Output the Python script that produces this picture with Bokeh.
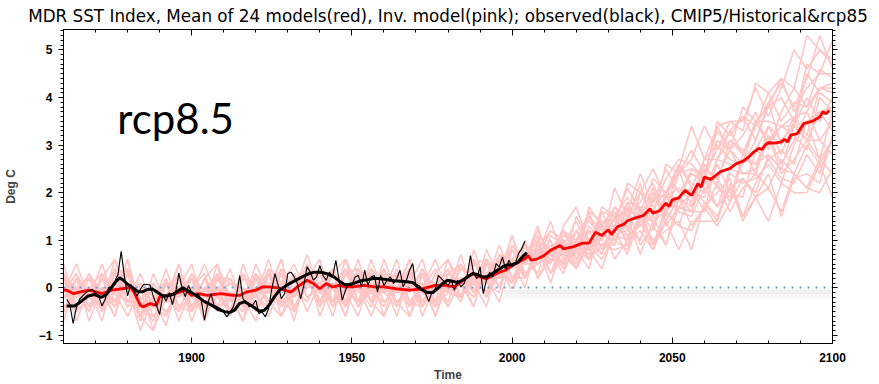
from bokeh.plotting import figure
from bokeh.models import (Range1d, LinearAxis, SingleIntervalTicker, Label,
                          BoxAnnotation, ColumnDataSource, CustomLabelingPolicy)
from bokeh.embed import file_html
from bokeh.resources import INLINE

# ---------------------------------------------------------------------------
# Data: MDR SST index anomalies (deg C)
# ---------------------------------------------------------------------------
# Individual model runs (historical + rcp8.5), sampled every 4 years 1860-2100
run_years = list(range(1860, 2101, 4))
model_runs = [
    [0.2, -0.2, 0.3, -0.1, -0.4, 0.1, -0.6, 0.3, -0.3, -0.1, 0.2, -0.7, 0.0, 0.2, -0.4, -0.1, -0.1, 0.3, -0.5, 0.2,
     0.6, -0.3, 0.0, 0.1, -0.1, 0.4, -0.3, -0.6, 0.3, 0.0, 0.1, -0.3, 0.5, 0.6, 0.2, 0.2, 0.6,
     1.3, 0.5, 1.1, 1.0, 1.6, 1.4, 1.3, 2.2, 2.0, 1.5, 2.6, 2.4, 2.7, 3.4, 2.9, 3.5, 3.5, 4.2, 3.6, 4.2, 5.0, 4.6, 5.0, 4.8],
    [-0.4, -0.1, 0.2, -0.5, -0.1, 0.6, -0.6, -0.2, -0.2, -0.5, 0.2, -0.2, 0.0, -0.5, 0.3, -0.1, -0.6, 0.1, -0.2, 0.4,
     -0.4, 0.0, 0.4, -0.3, -0.1, 0.1, 0.3, -0.6, 0.0, 0.4, -0.1, -0.2, 0.3, -0.2, 0.6, 0.5, 0.5,
     1.1, 0.3, 0.6, 0.8, 0.8, 0.4, 1.2, 0.7, 1.5, 1.0, 1.2, 1.4, 0.8, 1.8, 1.5, 2.1, 1.5, 1.9, 2.1, 1.6, 2.4, 2.1, 2.0, 2.5],
    [-0.1, 0.3, -0.4, 0.2, -0.4, 0.1, -0.3, -0.4, 0.4, -0.4, 0.0, -0.5, 0.2, -0.2, -0.2, 0.3, -0.3, 0.1, 0.2, 0.0,
     0.4, 0.0, -0.4, 0.1, -0.3, 0.6, -0.1, 0.0, 0.3, -0.6, 0.1, 0.5, -0.1, 0.2, 0.2, 0.8, 0.2,
     0.7, 1.4, 0.6, 1.0, 1.2, 1.1, 1.7, 1.2, 1.0, 2.0, 1.9, 2.1, 1.8, 2.7, 3.0, 2.7, 2.6, 3.1, 3.9, 3.0, 3.6, 3.7, 4.2, 4.1],
    [-0.2, 0.0, -0.5, 0.2, 0.6, -0.3, -0.3, -0.4, 0.2, -0.4, -0.5, 0.0, 0.2, -0.2, -0.7, 0.3, -0.1, 0.1, -0.4, 0.1,
     0.3, -0.4, -0.1, 0.6, -0.3, 0.1, 0.0, -0.4, 0.3, -0.1, 0.1, -0.2, 0.6, 0.2, -0.3, 0.6, 0.5,
     0.9, 0.3, 0.8, 1.2, 0.6, 0.9, 1.2, 1.5, 0.7, 1.4, 1.9, 1.6, 1.5, 2.1, 1.7, 2.5, 2.4, 2.4, 3.2, 2.4, 2.7, 3.1, 3.1, 2.8],
    [0.2, 0.0, -0.2, -0.4, 0.6, 0.0, -0.7, -0.2, 0.1, -0.2, 0.3, -0.4, -0.1, -0.1, -0.7, 0.2, 0.1, -0.1, -0.1, 0.5,
     -0.3, 0.3, -0.4, 0.1, 0.0, -0.1, 0.6, -0.3, 0.1, -0.4, 0.3, 0.1, 0.1, 0.6, 0.0, 0.6, 0.9,
     0.6, 1.2, 1.0, 0.6, 1.3, 1.0, 2.1, 1.5, 1.8, 2.2, 1.5, 2.4, 2.9, 2.4, 2.9, 3.3, 3.6, 3.1, 3.8, 4.4, 3.7, 4.2, 4.5, 4.5],
    [-0.2, 0.2, -0.7, 0.0, 0.0, -0.3, 0.3, -0.4, -0.6, 0.2, -0.1, 0.0, -0.4, 0.2, -0.2, -0.7, 0.3, 0.0, -0.2, 0.2,
     -0.4, 0.3, 0.6, -0.3, 0.0, -0.1, 0.4, -0.3, -0.4, 0.1, 0.3, 0.1, -0.4, 0.6, 0.2, 0.6, 0.3,
     0.6, 1.0, 0.4, 0.8, 1.6, 0.8, 1.3, 1.3, 1.0, 1.9, 1.6, 1.9, 1.7, 2.5, 2.3, 1.8, 2.7, 2.6, 3.2, 2.6, 3.1, 3.7, 3.1, 3.5],
    [-0.7, 0.2, -0.2, -0.1, 0.4, -0.3, -0.2, -0.4, 0.1, -0.5, -0.1, 0.5, -0.2, -0.1, -0.4, 0.3, 0.0, -0.4, 0.2, 0.2,
     -0.1, -0.3, 0.6, 0.0, -0.4, 0.1, 0.3, -0.1, 0.4, -0.3, 0.0, 0.2, -0.4, 0.5, 0.4, 0.4, 0.6,
     1.0, 0.3, 1.0, 0.4, 0.9, 0.9, 0.9, 1.7, 0.9, 1.3, 0.9, 1.7, 1.6, 1.6, 2.2, 1.6, 2.1, 2.4, 2.1, 2.7, 2.4, 2.1, 2.7, 2.4],
    [-0.2, -0.1, 0.0, -0.7, 0.3, -0.1, 0.1, -0.6, -0.2, 0.0, -0.5, 0.2, -0.2, -0.5, 0.0, -0.5, 0.0, 0.4, -0.2, 0.4,
     -0.6, 0.1, 0.0, -0.3, 0.6, -0.1, -0.4, 0.3, 0.0, 0.1, -0.3, 0.5, 0.1, -0.4, 0.6, 0.5, 0.5,
     0.8, 0.5, 1.3, 1.7, 0.9, 1.4, 1.4, 2.1, 1.6, 1.6, 2.3, 2.7, 2.6, 2.3, 3.5, 3.2, 3.6, 3.4, 3.9, 4.3, 3.8, 4.4, 5.3, 4.6],
    [0.2, -0.1, 0.0, -0.5, 0.3, 0.4, -0.4, -0.6, -0.2, 0.5, -0.5, 0.0, -0.2, 0.1, -0.1, -0.4, 0.4, 0.1, -0.7, 0.4,
     -0.1, 0.0, 0.4, -0.3, 0.1, -0.1, 0.3, -0.4, 0.0, 0.6, -0.1, 0.2, -0.1, 0.6, 0.3, 0.1, 0.9,
     0.7, 0.7, 0.5, 1.5, 1.0, 0.7, 1.3, 1.7, 1.4, 2.0, 1.4, 1.9, 2.1, 1.6, 2.7, 2.6, 2.6, 2.9, 3.4, 2.8, 3.5, 3.1, 3.7, 3.8],
    [-0.1, 0.3, -0.2, -0.4, 0.1, -0.4, 0.0, -0.3, -0.3, 0.5, -0.4, -0.2, 0.0, -0.2, -0.5, 0.2, -0.3, 0.4, -0.2, 0.1,
     0.1, -0.6, 0.3, -0.1, 0.4, -0.3, 0.0, 0.1, -0.4, 0.3, -0.1, -0.2, 0.3, -0.2, 0.3, 0.9, 0.5,
     0.9, 0.1, 0.9, 0.8, 0.6, 1.6, 1.0, 0.8, 1.6, 1.4, 1.6, 1.3, 2.1, 1.8, 1.4, 2.4, 2.2, 2.3, 2.6, 2.2, 3.0, 3.5, 2.7, 3.1],
    [0.2, -0.7, 0.0, 0.3, -0.3, 0.0, -0.4, 0.0, -0.6, 0.0, 0.5, -0.4, -0.1, -0.1, -0.2, 0.3, -0.3, -0.6, 0.2, 0.1,
     0.1, -0.4, 0.3, 0.4, -0.1, -0.3, 0.0, 0.6, -0.4, 0.1, -0.1, 0.4, 0.2, -0.1, 0.7, 0.6, 0.0,
     1.0, 0.7, 0.9, 1.4, 0.8, 1.3, 1.3, 1.8, 1.3, 1.8, 2.5, 2.0, 2.4, 2.2, 3.1, 2.9, 2.6, 3.5, 3.5, 3.4, 3.4, 4.5, 4.1, 3.9],
    [0.2, -0.2, 0.0, -0.4, 0.4, 0.0, -0.9, -0.2, -0.3, 0.2, -0.5, -0.1, 0.3, -0.5, -0.2, 0.0, 0.3, -0.6, -0.1, 0.5,
     -0.1, -0.3, 0.1, -0.4, 0.3, 0.0, -0.1, 0.6, -0.3, -0.1, 0.1, 0.1, -0.2, 0.5, 0.0, 0.9, 0.5,
     0.5, 0.7, 0.3, 1.0, 0.7, 1.3, 0.6, 1.0, 1.2, 0.8, 1.6, 1.3, 1.2, 1.7, 1.3, 1.8, 2.3, 1.9, 2.4, 1.5, 2.3, 2.4, 2.2, 3.2],
    [0.0, -0.5, 0.2, -0.1, -0.1, 0.4, -0.6, -0.2, 0.1, -0.2, 0.3, -0.1, -0.5, -0.1, -0.4, 0.5, -0.1, 0.0, 0.2, -0.5,
     0.1, 0.4, -0.3, 0.0, -0.1, 0.3, -0.4, 0.1, 0.6, -0.3, 0.0, 0.2, 0.1, 0.6, 0.0, -0.1, 0.9,
     0.6, 0.9, 0.5, 1.2, 1.4, 1.1, 1.0, 1.4, 2.2, 1.3, 1.9, 1.9, 2.4, 2.3, 2.2, 3.1, 2.9, 2.4, 3.4, 3.1, 3.4, 4.0, 3.5, 4.0],
    [-0.5, 0.0, 0.2, -0.1, -0.6, 0.4, -0.4, -0.2, -0.5, -0.1, 0.2, -0.5, -0.2, 0.4, -0.4, 0.0, 0.0, -0.4, 0.2, 0.0,
     0.1, -0.3, 0.4, 0.0, -0.6, 0.1, -0.1, 0.3, -0.4, 0.0, 0.4, -0.2, 0.1, 0.3, 0.6, -0.1, 0.6,
     1.1, 0.8, 0.7, 1.2, 0.8, 1.6, 1.5, 1.6, 2.4, 1.7, 2.0, 2.4, 2.5, 2.4, 3.3, 2.9, 3.8, 3.5, 3.8, 4.0, 3.5, 4.7, 4.5, 5.2],
    [0.3, -0.4, -0.1, 0.0, -0.6, 0.3, -0.2, -0.4, -0.2, 0.3, -0.4, 0.2, -0.5, -0.1, -0.1, -0.2, 0.6, -0.3, 0.0, -0.3,
     0.3, 0.0, -0.1, 0.4, -0.3, 0.1, 0.3, -0.1, 0.4, 0.0, -0.4, 0.2, -0.1, 0.8, 0.2, 0.5, 0.9,
     0.2, 0.8, 1.2, 0.6, 1.0, 1.0, 1.5, 0.9, 1.5, 2.1, 1.3, 1.7, 2.0, 1.9, 2.6, 2.0, 1.9, 2.9, 2.7, 2.9, 2.6, 3.5, 3.7, 3.3],
    [-0.1, 0.0, -0.4, 0.3, -0.1, -0.6, 0.0, -0.3, -0.3, 0.0, -0.5, 0.2, 0.5, -0.5, -0.1, -0.2, 0.4, -0.3, -0.5, 0.2,
     0.3, 0.0, -0.6, 0.4, -0.1, 0.1, -0.3, 0.0, 0.3, -0.4, -0.1, 0.7, -0.1, 0.3, 0.3, 0.1, 0.9,
     0.5, 0.8, 0.4, 1.2, 0.9, 0.6, 1.1, 1.0, 1.5, 0.9, 1.4, 1.9, 1.3, 1.7, 2.0, 2.3, 1.5, 2.2, 2.7, 2.3, 2.2, 2.8, 2.4, 3.2],
    [-0.1, 0.5, -0.2, 0.0, -0.3, 0.4, -0.3, -0.7, 0.1, 0.0, -0.2, -0.4, 0.5, -0.2, -0.5, 0.0, 0.3, -0.1, 0.3, -0.2,
     0.0, 0.1, -0.6, 0.3, 0.1, -0.1, 0.0, 0.4, -0.3, 0.3, -0.4, 0.2, 0.2, 0.1, 0.9, 0.2, 0.7,
     0.3, 1.1, 0.9, 0.9, 1.5, 1.0, 1.5, 1.9, 1.6, 2.3, 2.0, 1.8, 2.5, 2.3, 3.4, 2.9, 3.2, 3.7, 2.9, 3.7, 4.2, 3.8, 4.2, 4.3],
    [-0.5, 0.2, -0.2, -0.4, 0.1, -0.4, -0.3, 0.1, -0.3, 0.2, -0.7, 0.0, -0.1, -0.5, 0.5, -0.2, -0.4, 0.3, -0.1, 0.2,
     -0.3, 0.4, -0.1, -0.6, 0.3, 0.0, -0.1, 0.1, -0.4, 0.3, 0.6, -0.2, 0.2, 0.1, 0.7, 0.2, 0.2,
     0.8, 1.2, 1.0, 0.5, 1.7, 1.3, 1.7, 1.5, 2.0, 2.5, 1.9, 2.5, 3.4, 2.7, 3.4, 3.5, 3.3, 4.3, 4.1, 4.4, 4.2, 5.3, 5.0, 4.7],
    [-0.5, 0.0, -0.2, 0.2, 0.0, -0.3, 0.1, -0.2, -0.8, 0.2, -0.2, -0.1, 0.3, -0.5, 0.0, -0.2, 0.3, -0.4, -0.1, 0.7,
     -0.1, 0.1, -0.3, 0.4, 0.0, -0.4, 0.3, 0.1, -0.1, -0.3, 0.6, 0.1, -0.2, 0.3, 0.6, 0.4, 1.0,
     0.2, 0.6, 0.7, 0.4, 1.0, 0.9, 0.8, 0.9, 1.4, 0.8, 1.4, 0.8, 1.4, 1.4, 1.4, 2.2, 1.4, 1.9, 1.4, 2.2, 2.0, 2.0, 2.6, 1.9],
    [-0.4, -0.2, 0.0, -0.1, -0.4, 0.3, -0.6, 0.1, -0.3, -0.1, 0.0, -0.7, 0.2, -0.3, 0.3, -0.4, 0.0, 0.1, -0.5, 0.4,
     -0.1, -0.3, 0.1, -0.4, 0.0, 0.4, -0.1, 0.3, -0.6, 0.1, 0.0, -0.2, 0.8, 0.1, -0.1, 0.8, 0.6,
     0.7, 0.5, 1.2, 0.8, 0.4, 1.4, 1.2, 1.3, 1.6, 1.2, 2.0, 2.5, 1.7, 2.2, 2.3, 2.9, 2.4, 2.5, 3.1, 3.4, 3.2, 2.9, 4.0, 3.7],
    [0.5, -0.4, -0.1, 0.0, -0.1, 0.4, -0.6, -0.9, 0.1, -0.1, 0.0, -0.5, 0.2, 0.2, -0.2, -0.4, 0.0, 0.6, -0.5, 0.2,
     -0.1, 0.3, 0.0, -0.3, 0.4, 0.1, -0.6, 0.3, -0.1, 0.0, 0.4, -0.2, 0.3, 0.1, 0.6, 0.1, 0.6,
     1.2, 0.7, 1.0, 0.7, 1.5, 1.2, 0.9, 1.8, 1.7, 1.6, 1.6, 2.6, 2.2, 2.0, 2.7, 3.1, 2.8, 3.5, 3.0, 3.4, 3.6, 3.2, 4.2, 4.2],
    [-0.5, -0.1, 0.3, -0.4, -0.1, 0.1, 0.0, -0.9, -0.2, 0.3, -0.2, -0.4, 0.0, -0.6, 0.2, -0.1, -0.1, 0.6, -0.4, 0.0,
     0.1, 0.0, -0.4, 0.3, -0.3, 0.4, -0.1, 0.0, 0.1, -0.6, 0.3, 0.0, 0.6, -0.1, 0.3, 0.6, 0.2,
     0.9, 0.6, 0.5, 1.0, 0.6, 1.1, 1.6, 1.2, 1.7, 0.9, 1.7, 1.7, 1.6, 2.6, 2.1, 1.9, 2.8, 2.6, 2.8, 2.5, 3.4, 3.1, 2.7, 3.7],
    [0.3, -0.1, -0.5, 0.0, -0.3, 0.6, -0.4, -0.3, 0.1, -0.7, 0.0, 0.3, -0.4, -0.2, -0.2, 0.2, -0.4, 0.1, 0.5, -0.2,
     0.0, 0.1, -0.1, 0.4, -0.3, -0.6, 0.3, 0.0, 0.1, -0.4, 0.3, 0.5, 0.1, -0.1, 0.3, 1.1, 0.2,
     0.8, 0.7, 1.2, 1.0, 0.8, 1.7, 1.5, 1.0, 2.0, 1.8, 2.0, 2.6, 2.1, 2.7, 2.7, 3.3, 2.8, 3.4, 4.1, 3.5, 3.9, 3.8, 4.6, 4.4],
    [0.2, -0.5, -0.2, 0.5, -0.3, 0.1, -0.3, -0.7, 0.1, -0.2, 0.0, -0.4, 0.3, -0.2, -0.7, 0.0, -0.1, 0.3, -0.5, 0.1,
     0.4, -0.3, -0.1, 0.1, 0.3, -0.6, 0.0, 0.4, -0.1, -0.3, 0.1, -0.3, 0.5, 0.2, 0.2, 1.1, 0.3,
     0.5, 0.8, 0.8, 0.4, 1.2, 0.7, 1.5, 1.1, 1.3, 1.5, 0.9, 1.9, 1.6, 2.3, 1.7, 2.1, 2.3, 2.0, 2.8, 2.5, 2.4, 3.0, 2.6, 3.1],
]

# Mean of the 24 models
mean_years = [1860, 1861, 1863, 1865, 1868, 1872, 1875, 1878, 1881, 1882, 1884, 1885, 1887, 1889, 1890, 1892, 1895,
              1898, 1900, 1902, 1905, 1909, 1913, 1915, 1917, 1920, 1922, 1924, 1927, 1929, 1931, 1933, 1936, 1938,
              1940, 1942, 1944, 1946, 1948, 1950, 1954, 1957, 1960, 1964, 1968, 1972, 1976, 1979, 1982, 1984, 1986,
              1988, 1990, 1992, 1994, 1996, 1998, 2000, 2002, 2004, 2005, 2006, 2008, 2010, 2012, 2015, 2016, 2019,
              2022, 2024, 2026, 2028, 2030, 2031, 2033, 2035, 2036, 2039, 2041, 2043, 2044, 2046, 2048, 2049, 2050,
              2052, 2054, 2056, 2058, 2059, 2060, 2062, 2065, 2068, 2070, 2072, 2074, 2075, 2077, 2078, 2079, 2080,
              2082, 2084, 2085, 2086, 2087, 2089, 2091, 2094, 2096, 2097, 2098, 2099]
mean_vals = [-0.05, -0.05, -0.12, -0.09, -0.05, -0.12, -0.05, -0.02, 0.01, -0.09, -0.37, -0.40, -0.33, -0.37, -0.19,
             -0.16, -0.12, -0.05, -0.16, -0.12, -0.16, -0.12, -0.16, -0.16, -0.09, -0.05, 0.02, 0.02, 0.00, -0.05,
             -0.09, 0.02, 0.16, 0.09, -0.02, 0.09, 0.02, 0.05, 0.02, 0.02, 0.05, 0.02, 0.02, -0.02, -0.05, -0.02,
             0.05, 0.05, 0.02, 0.12, 0.23, 0.30, 0.23, 0.19, 0.26, 0.33, 0.37, 0.47, 0.54, 0.61, 0.68, 0.58, 0.61,
             0.68, 0.79, 0.89, 0.82, 0.86, 0.94, 0.94, 1.17, 1.10, 1.22, 1.12, 1.29, 1.34, 1.41, 1.48, 1.52, 1.66,
             1.57, 1.62, 1.78, 1.71, 1.85, 1.89, 2.05, 1.94, 2.19, 2.12, 2.33, 2.28, 2.44, 2.51, 2.61, 2.66, 2.76,
             2.83, 2.93, 2.91, 3.00, 3.05, 3.04, 3.07, 3.12, 3.07, 3.21, 3.24, 3.45, 3.51, 3.59, 3.70, 3.66, 3.73]

# Observed annual index
obs_years = [1861, 1862, 1863, 1864, 1865, 1866, 1867, 1868, 1869, 1870, 1871, 1872, 1873, 1874, 1875, 1876, 1877,
             1878, 1879, 1880, 1881, 1882, 1883, 1884, 1885, 1886, 1887, 1888, 1890, 1891, 1892, 1893, 1894, 1895,
             1896, 1897, 1898, 1899, 1900, 1901, 1902, 1903, 1904, 1905, 1906, 1907, 1908, 1909, 1910, 1911, 1912,
             1913, 1914, 1915, 1916, 1917, 1918, 1919, 1920, 1921, 1922, 1923, 1924, 1925, 1926, 1927, 1928, 1929,
             1930, 1931, 1932, 1933, 1934, 1935, 1936, 1937, 1938, 1939, 1940, 1941, 1942, 1943, 1944, 1945, 1946,
             1947, 1948, 1949, 1950, 1951, 1952, 1953, 1954, 1955, 1956, 1957, 1958, 1959, 1960, 1961, 1962, 1963,
             1964, 1965, 1966, 1967, 1968, 1969, 1970, 1971, 1972, 1973, 1974, 1975, 1976, 1977, 1978, 1979, 1980,
             1981, 1982, 1983, 1984, 1985, 1986, 1987, 1988, 1989, 1990, 1991, 1992, 1993, 1994, 1995, 1996, 1997,
             1998, 1999, 2000, 2001, 2002, 2003, 2004]
obs_vals = [-0.24, -0.35, -0.75, -0.42, -0.24, -0.17, -0.10, -0.06, -0.03, -0.10, -0.17, -0.38, -0.24, 0.00, 0.03,
            0.14, 0.28, 0.77, 0.24, -0.17, 0.07, -0.07, -0.17, -0.03, 0.07, 0.07, 0.06, -0.17, -0.56, -0.14, -0.28,
            -0.10, -0.35, -0.10, 0.31, 0.00, -0.19, 0.05, -0.10, -0.16, -0.12, -0.26, -0.68, -0.33, -0.12, -0.37,
            -0.40, -0.44, -0.51, -0.61, -0.51, -0.40, -0.16, 0.26, -0.23, -0.30, -0.40, -0.37, -0.26, -0.54, -0.51,
            -0.61, -0.44, -0.02, 0.30, 0.05, -0.23, -0.12, 0.30, 0.33, 0.23, 0.09, -0.23, 0.05, 0.44, 0.33, 0.16,
            0.23, 0.47, 0.26, 0.16, 0.33, 0.23, 0.58, 0.16, -0.26, -0.05, 0.09, 0.05, 0.23, 0.26, 0.02, 0.37, 0.05,
            0.23, 0.26, -0.09, 0.26, 0.05, 0.16, 0.23, 0.09, 0.19, 0.37, 0.02, 0.16, 0.37, 0.51, 0.02, 0.05, -0.05,
            -0.12, -0.29, -0.09, -0.02, 0.26, 0.19, 0.12, 0.05, 0.16, -0.05, 0.16, 0.02, 0.09, 0.26, 0.68, 0.30,
            0.19, 0.44, -0.12, 0.16, 0.33, 0.23, 0.51, 0.44, 0.65, 0.37, 0.58, 0.44, 0.51, 0.72, 0.82, 0.98]

# Observed, low-pass filtered
obs_smooth_years = [1861, 1863.5, 1865.6, 1867.7, 1869.7, 1871.8, 1873.4, 1874.9, 1876.5, 1877.5, 1878.5, 1880.1,
                    1881.7, 1883.2, 1884.8, 1886.3, 1887.9, 1889.4, 1891, 1892.5, 1894.1, 1895.6, 1897.2, 1899.9,
                    1902, 1904, 1906.1, 1908.2, 1910.3, 1911.8, 1913.4, 1914.9, 1916.5, 1918, 1919.6, 1921.1,
                    1922.7, 1924.2, 1925.8, 1927.4, 1928.9, 1930.5, 1932, 1934.2, 1936.3, 1938.3, 1940.4, 1942.5,
                    1944.6, 1946.1, 1947.7, 1949.2, 1950.8, 1952.8, 1954.9, 1957, 1959.1, 1961.1, 1963.2, 1965.3,
                    1967.4, 1969, 1970, 1971.6, 1973.7, 1975.2, 1976.8, 1978.3, 1979.9, 1981.4, 1983, 1984.5,
                    1986.1, 1987.7, 1989.2, 1990.8, 1992.3, 1993.9, 1995.4, 1997, 1998.5, 2000.1, 2001.7, 2003.2,
                    2004.6]
obs_smooth_vals = [-0.38, -0.38, -0.28, -0.17, -0.14, -0.20, -0.14, 0.00, 0.14, 0.21, 0.17, 0.07, 0.00, -0.08,
                   -0.08, -0.03, -0.03, -0.10, -0.17, -0.17, -0.14, -0.07, 0.00, -0.10, -0.19, -0.29, -0.36, -0.45,
                   -0.50, -0.52, -0.47, -0.33, -0.29, -0.35, -0.42, -0.49, -0.47, -0.36, -0.19, -0.05, 0.02, 0.09,
                   0.14, 0.22, 0.29, 0.33, 0.33, 0.29, 0.22, 0.14, 0.07, 0.07, 0.10, 0.15, 0.17, 0.20, 0.19, 0.17,
                   0.15, 0.14, 0.13, 0.11, 0.06, -0.03, -0.10, -0.10, -0.01, 0.09, 0.16, 0.14, 0.11, 0.16, 0.23,
                   0.30, 0.28, 0.23, 0.24, 0.30, 0.37, 0.44, 0.48, 0.49, 0.53, 0.65, 0.74]

TITLE = ("MDR SST Index, Mean of 24 models(red), Inv. model(pink); "
         "observed(black), CMIP5/Historical&rcp85")

# ---------------------------------------------------------------------------
# Figure
# ---------------------------------------------------------------------------
X0, X1 = 1860, 2100
Y0, Y1 = -1.17, 5.43

p = figure(width=879, height=384, x_range=Range1d(X0, X1), y_range=Range1d(Y0, Y1),
           output_backend="svg", toolbar_location=None,
           min_border_left=60, min_border_right=47, min_border_top=28, min_border_bottom=41)
p.xgrid.visible = False
p.ygrid.visible = False
p.outline_line_color = "black"
p.outline_line_width = 1
p.background_fill_color = "white"
p.border_fill_color = "white"

p.title.text = TITLE
p.title.align = "center"
p.title.text_font = "DejaVu Sans"
p.title.text_font_size = "16.8px"
p.title.text_font_style = "normal"
p.title.text_color = "black"
p.title.standoff = 7
p.title.offset = -5

TICK_FONT = "Liberation Sans"

# mirrored axes carry tick marks only: the labeling policy keeps none of the labels
NO_LABELS = CustomLabelingPolicy(code="""
    for (const i of [...indices.ones()]) { indices.unset(i) }
    return indices
""")


def style_x(ax, labels=True):
    ax.ticker = SingleIntervalTicker(interval=50, num_minor_ticks=5)
    ax.major_tick_in = 6
    ax.major_tick_out = 0
    ax.minor_tick_in = 3
    ax.minor_tick_out = 0
    ax.axis_line_color = "black"
    ax.major_tick_line_color = "black"
    ax.minor_tick_line_color = "black"
    ax.major_label_text_font = TICK_FONT
    ax.major_label_text_font_style = "bold"
    ax.major_label_text_color = "black"
    if labels:
        ax.major_label_text_font_size = "12px"
        ax.major_label_standoff = 9
    else:
        ax.major_label_text_font_size = "0px"
        ax.major_label_policy = NO_LABELS
        ax.major_label_standoff = 0


def style_y(ax, labels=True):
    ax.ticker = SingleIntervalTicker(interval=1, num_minor_ticks=10)
    ax.major_tick_in = 0
    ax.major_tick_out = 5
    ax.minor_tick_in = 0
    ax.minor_tick_out = 3
    ax.axis_line_color = "black"
    ax.major_tick_line_color = "black"
    ax.minor_tick_line_color = "black"
    ax.major_label_text_font = TICK_FONT
    ax.major_label_text_font_style = "bold"
    ax.major_label_text_color = "black"
    if labels:
        ax.major_label_text_font_size = "12px"
        ax.major_label_standoff = 6
    else:
        ax.major_label_text_font_size = "0px"
        ax.major_label_policy = NO_LABELS
        ax.major_label_standoff = 0


xa = p.xaxis[0]
style_x(xa)
xa.axis_label = "Time"
xa.axis_label_text_font = TICK_FONT
xa.axis_label_text_font_size = "12px"
xa.axis_label_text_font_style = "bold"
xa.axis_label_standoff = 3

ya = p.yaxis[0]
style_y(ya)
ya.axis_label = "Deg C"
ya.axis_label_text_font = TICK_FONT
ya.axis_label_text_font_size = "12px"
ya.axis_label_text_font_style = "bold"
ya.axis_label_standoff = 18

top_axis = LinearAxis()
style_x(top_axis, labels=False)
p.add_layout(top_axis, "above")

right_axis = LinearAxis()
style_y(right_axis, labels=False)
p.add_layout(right_axis, "right")

# Individual model runs
runs_src = ColumnDataSource(data=dict(
    xs=[run_years[:len(r)] for r in model_runs],
    ys=model_runs,
))
p.multi_line(xs="xs", ys="ys", source=runs_src, line_color="#ffc4c4", line_width=1.5)

# Blank strip beneath the zero line after the historical period
p.add_layout(BoxAnnotation(left=1997.3, right=X1, bottom=Y0, top=-0.03,
                           fill_color="white", fill_alpha=1.0, line_color=None, level="glyph"))
p.add_layout(BoxAnnotation(left=1997.3, right=X1, bottom=-0.13, top=-0.03,
                           fill_color="#f1f1f1", fill_alpha=1.0, line_color=None, level="glyph"))
p.add_layout(BoxAnnotation(left=1997.3, right=X1, bottom=-0.24, top=-0.13,
                           fill_color="#f8f8f8", fill_alpha=1.0, line_color=None, level="glyph"))

# Zero reference (dotted), drawn above the runs and below the mean
p.hspan(y=[0.0], line_color="#6a9fd8", line_width=2, line_dash="2 6")

# Ensemble mean
p.line(mean_years, mean_vals, line_color="#ff0000", line_width=2.8)

# Observations
p.line(obs_years, obs_vals, line_color="black", line_width=1.1)
p.line(obs_smooth_years, obs_smooth_vals, line_color="black", line_width=3)

# Scenario tag
p.add_layout(Label(x=1876.8, y=3.58, text="rcp8.5", text_font="Lato",
                   text_font_size="42px", text_color="black", text_baseline="alphabetic"))

open("out.html", "w").write(file_html(p, INLINE))
